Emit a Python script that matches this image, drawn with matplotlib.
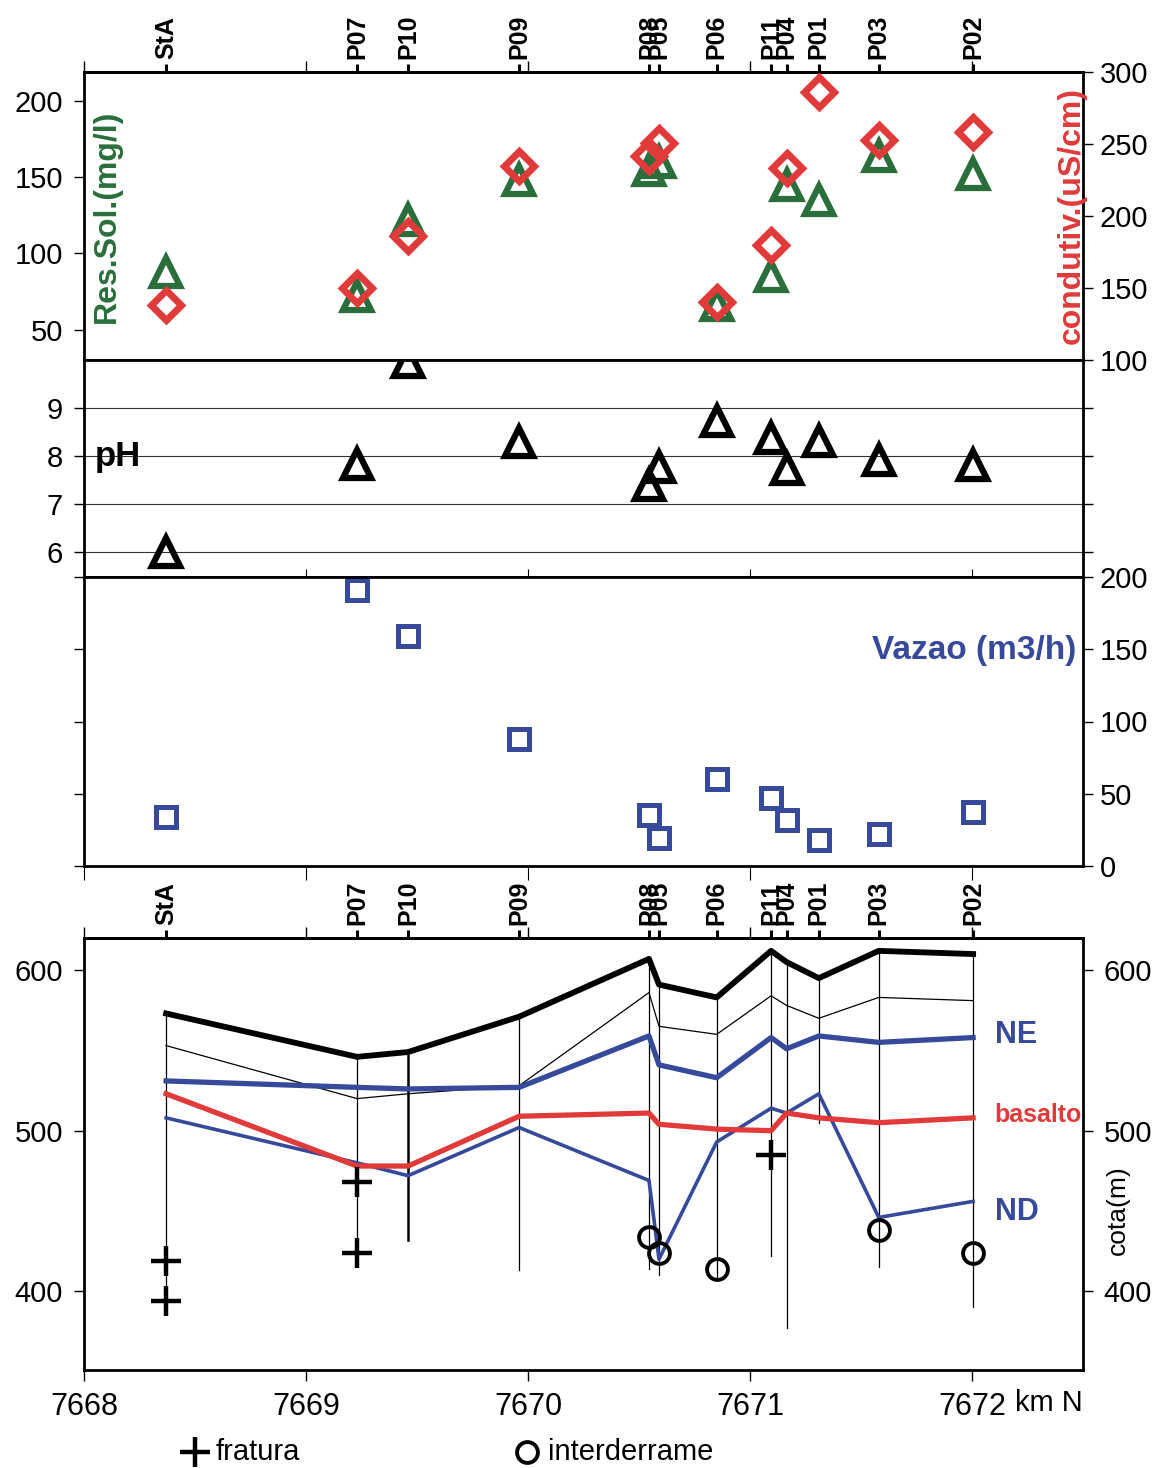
"""Perfil N-S dos pocos: residuo solido, condutividade, pH, vazao e cota."""

import matplotlib

matplotlib.use("Agg")
import matplotlib.pyplot as plt
from matplotlib.lines import Line2D

plt.rcParams["font.family"] = ["Liberation Sans", "DejaVu Sans"]

GREEN = "#2a6e3c"
RED = "#e03a3a"
BLUE = "#36499a"

# wells along the profile (km N)
wells = ["StA", "P07", "P10", "P09", "P08", "P05", "P06", "P11", "P04", "P01", "P03", "P02"]
north = [7668.37, 7669.23, 7669.46, 7669.96, 7670.545, 7670.59, 7670.85,
         7671.095, 7671.165, 7671.31, 7671.58, 7672.005]

res_sol = [88, 72, 122, 148, 155, 160, 66, 85, 145, 135, 164, 152]          # mg/l
condutiv = [138, 150, 186, 235, 242, 251, 140, 180, 233, 286, 253, 258]     # uS/cm
ph = [6.0, 7.83, 9.96, 8.3, 7.4, 7.77, 8.73, 8.37, 7.73, 8.31, 7.92, 7.81]
vazao = [34, 191, 159, 88, 35, 19.5, 60, 47, 32, 18, 22, 37.5]              # m3/h

# cota (m) of the layers at each well
topo = [573, 546, 549, 571, 607, 591, 583, 612, 605, 595, 612, 610]
layer2 = [553, 520, 523, 528, 586, 565, 560, 584, 578, 570, 583, 581]
ne = [531, 527, 526, 527, 559, 541, 533, 558, 551, 559, 555, 558]
basalto = [523, 478, 478, 509, 511, 504, 501, 500, 511, 508, 505, 508]
nd = [508, 480, 472, 502, 469, 420, 493, 514, 511, 523, 446, 456]
fundo = [390, 415, 432, 413, 414, 410, 407, 422, 377, 505, 415, 390]

fratura_x = [7668.37, 7668.37, 7669.23, 7669.23, 7671.095]
fratura_y = [419, 394, 468, 424, 485]
inter_x = [7670.545, 7670.59, 7670.85, 7671.58, 7672.005]
inter_y = [434, 424, 414, 438, 424]

km = [7668, 7669, 7670, 7671, 7672]

FW, FH = 1157, 1468
XL, XR = 84, 1083
FS = 21


def rect(top, bot):
    return [XL / FW, 1 - bot / FH, (XR - XL) / FW, (bot - top) / FH]


def base_axis(ax):
    ax.set_xlim(7668, 7672.5)
    for s in ax.spines.values():
        s.set_linewidth(2)
    ax.set_xticks(km)
    ax.tick_params(axis="y", direction="out", length=7, width=1, labelsize=FS, pad=8)


def well_labels(ax):
    sec = ax.secondary_xaxis("top")
    sec.set_xticks(north, labels=wells, rotation=90, fontweight="bold", fontsize=18)
    sec.tick_params(direction="out", length=5.5, width=2.2, pad=4)
    sec.spines["top"].set_linewidth(2)
    ax.tick_params(axis="x", which="major", top=True, bottom=False, labeltop=False,
                   labelbottom=False, length=8, width=1, direction="out")


fig = plt.figure(figsize=(FW / 100, FH / 100), dpi=100)

# --- residuo solido / condutividade
ax1 = fig.add_axes(rect(72, 360))
base_axis(ax1)
well_labels(ax1)
ax1.tick_params(axis="x", bottom=True, direction="inout", length=12)
ax1.tick_params(axis="x", top=True, direction="out", length=8)
ax1.set_ylim(30, 219)
ax1.set_yticks([50, 100, 150, 200])
ax1.plot(north, res_sol, "^", ms=20, mfc="none", mec=GREEN, mew=4.5)
ax1.text(0.023, 0.5, "Res.Sol.(mg/l)", transform=ax1.transAxes, rotation=90,
         color=GREEN, fontsize=23, fontweight="bold", ha="center", va="center")
ax1r = ax1.twinx()
ax1r.set_ylim(100, 300)
ax1r.set_yticks([100, 150, 200, 250, 300])
ax1r.tick_params(axis="y", direction="out", length=7, width=1, labelsize=FS, pad=5)
ax1r.plot(north, condutiv, "D", ms=15, mfc="none", mec=RED, mew=5)
ax1r.text(0.989, 0.5, "condutiv.(uS/cm)", transform=ax1r.transAxes, rotation=90,
          color=RED, fontsize=23, fontweight="bold", ha="center", va="center")

# --- pH
ax2 = fig.add_axes(rect(360, 577))
base_axis(ax2)
ax2.tick_params(axis="x", top=False, bottom=True, direction="inout", length=12,
                labelbottom=False)
ax2.set_ylim(5.48, 10)
ax2.set_yticks([6, 7, 8, 9])
ax2.tick_params(axis="y", left=True, right=True)
ax2.grid(axis="y", color="0.2", lw=0.8)
ax2.plot(north, ph, "^", ms=20, mfc="none", mec="black", mew=4.5)
ax2.text(0.011, 0.555, "pH", transform=ax2.transAxes, fontsize=25,
         fontweight="bold", ha="left", va="center")

# --- vazao
ax3 = fig.add_axes(rect(577, 866))
base_axis(ax3)
ax3.tick_params(axis="x", top=False, bottom=True, direction="out", length=10,
                labelbottom=False)
ax3.set_ylim(0, 200)
ax3.set_yticks([0, 50, 100, 150, 200])
ax3.tick_params(axis="y", left=True, right=True, labelleft=False, labelright=True,
                pad=5)
ax3.plot(north, vazao, "s", ms=14, mfc="none", mec=BLUE, mew=3.6)
ax3.text(0.993, 0.745, "Vazao (m3/h)", transform=ax3.transAxes, color=BLUE,
         fontsize=24, fontweight="bold", ha="right", va="center")

# --- perfil (cota)
ax4 = fig.add_axes(rect(938, 1370))
base_axis(ax4)
well_labels(ax4)
ax4.tick_params(axis="x", which="major", bottom=True, labelbottom=True,
                length=8, labelsize=22, pad=8)
ax4.tick_params(axis="x", top=True, length=8)
ax4.set_ylim(351, 620)
ax4.set_yticks([400, 500, 600])
ax4.tick_params(axis="y", left=True, right=True, labelright=True)
for t in ax4.yaxis.get_major_ticks():
    t.set_pad(8)
ax4.text(1118 / FW, 1 - 1210 / FH, "cota(m)", transform=fig.transFigure,
         rotation=90, fontsize=19, ha="center", va="center")

for x, t, b, name in zip(north, topo, fundo, wells):
    ax4.plot([x, x], [t, b], color="black", lw=1.8 if name == "P10" else 0.9)
ax4.plot(north, layer2, color="black", lw=0.9)
ax4.plot(north, nd, color=BLUE, lw=2.6)
ax4.plot(north, basalto, color=RED, lw=3.8)
ax4.plot(north, ne, color=BLUE, lw=3.8)
ax4.plot(north, topo, color="black", lw=4.2)
ax4.plot(fratura_x, fratura_y, "+", ms=21, mew=3.2, color="black", ls="none")
ax4.plot(inter_x, inter_y, "o", ms=15, mew=2.8, mfc="none", mec="black", ls="none")

ax4.text(0.912, 0.775, "NE", transform=ax4.transAxes, color=BLUE, fontsize=22,
         fontweight="bold", va="center")
ax4.text(0.911, 0.59, "basalto", transform=ax4.transAxes, color=RED, fontsize=18,
         fontweight="bold", va="center")
ax4.text(0.912, 0.366, "ND", transform=ax4.transAxes, color=BLUE, fontsize=22,
         fontweight="bold", va="center")
ax4.annotate("km N", xy=(1, 0), xycoords="axes fraction", xytext=(0, -14),
             textcoords="offset points", ha="right", va="top", fontsize=21)

# legenda
fig.add_artist(Line2D([195 / FW], [1 - 1452 / FH], marker="+", ms=21, mew=3.2,
                      color="black", transform=fig.transFigure))
fig.text(216 / FW, 1 - 1452 / FH, "fratura", fontsize=FS, va="center")
fig.add_artist(Line2D([527 / FW], [1 - 1452 / FH], marker="o", ms=15, mew=2.8,
                      mfc="none", mec="black", transform=fig.transFigure))
fig.text(548 / FW, 1 - 1452 / FH, "interderrame", fontsize=FS, va="center")

fig.savefig("out.png", dpi=100)
